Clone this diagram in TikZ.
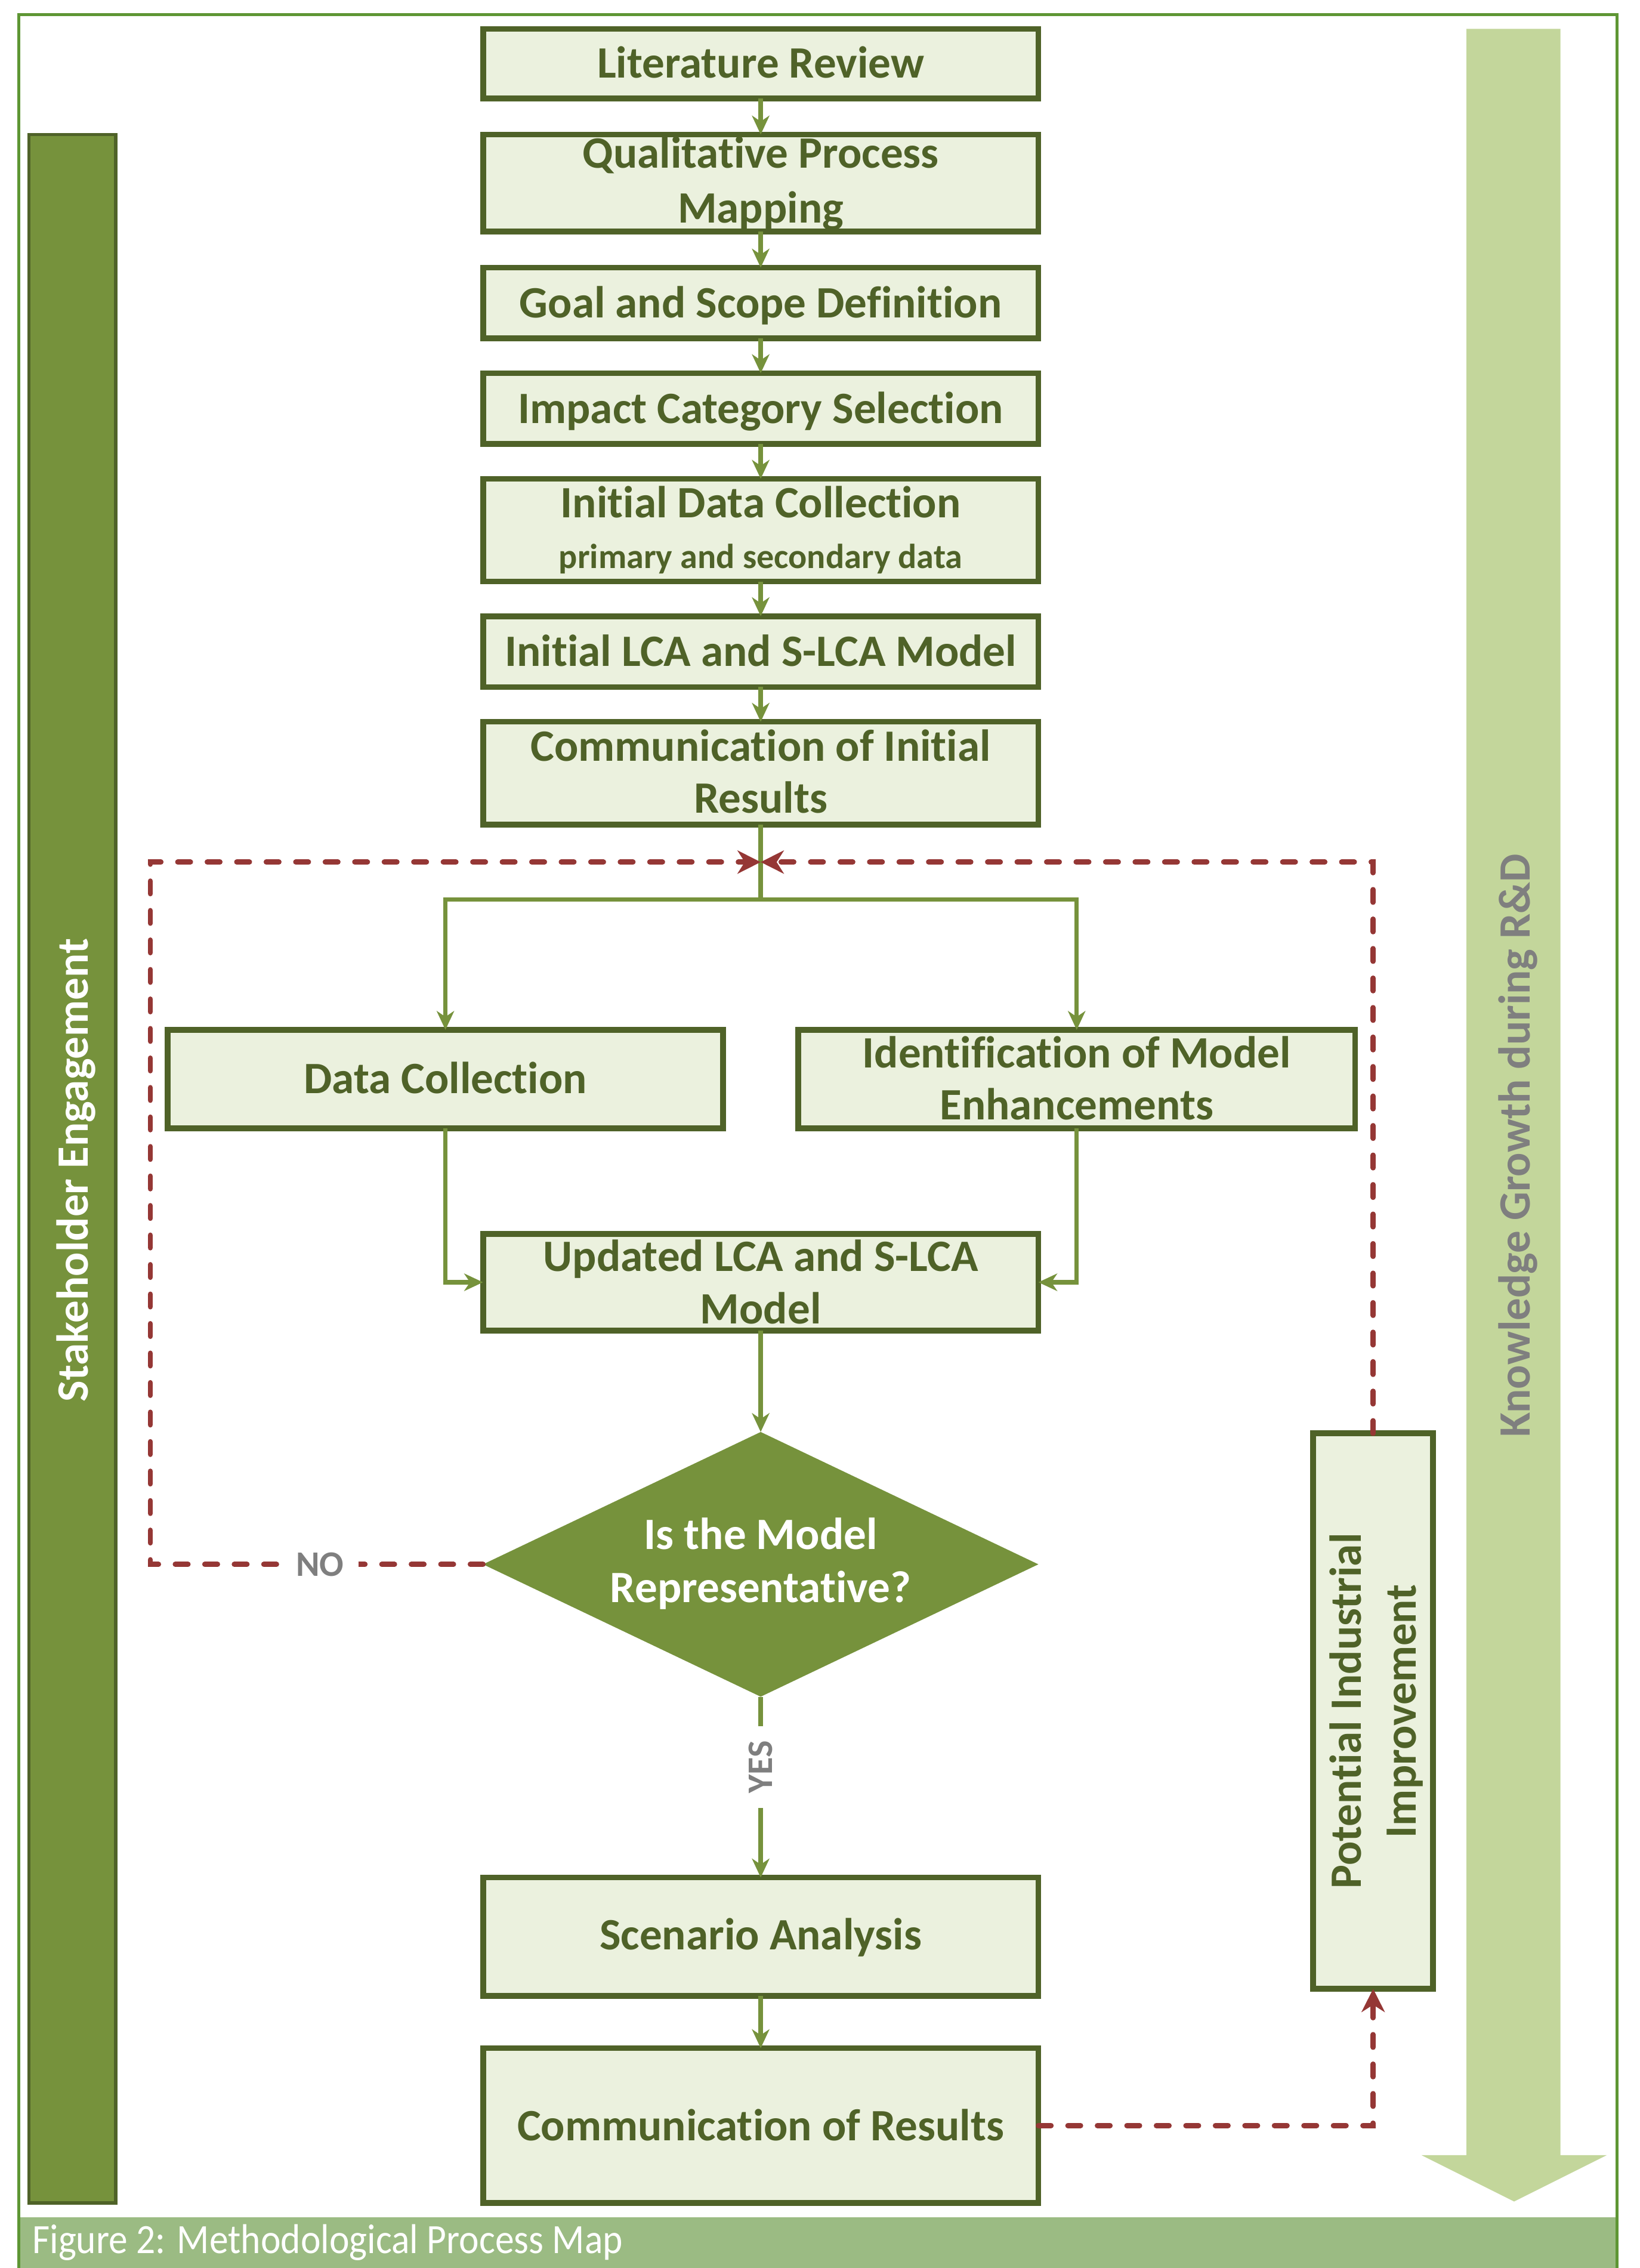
\documentclass[tikz,border=0pt]{standalone}
\usepackage{fontspec}
\setmainfont{Carlito}[Ligatures={NoCommon,NoRequired,NoContextual},Contextuals={NoAlternate}]
\usetikzlibrary{arrows.meta,shapes.geometric,calc}
\definecolor{frameG}{RGB}{94,150,52}
\definecolor{capG}{RGB}{155,187,131}
\definecolor{boxF}{RGB}{235,241,222}
\definecolor{boxD}{RGB}{79,98,40}
\definecolor{oliveG}{RGB}{118,146,60}
\definecolor{redD}{RGB}{149,55,53}
\definecolor{lightG}{RGB}{195,214,155}
\definecolor{grayT}{RGB}{127,127,127}
\begin{document}
\begin{tikzpicture}[x=0.5pt,y=-0.5pt,
  pbox/.style={draw=boxD, line width=2pt, fill=boxF, minimum width=192pt, inner sep=0pt, outer sep=0pt},
  btxt/.style={anchor=base, inner sep=0pt, font=\bfseries\fontsize{15.5}{18}\selectfont, text=boxD},
  stxt/.style={anchor=base, inner sep=0pt, font=\bfseries\fontsize{12}{14}\selectfont, text=boxD},
  wtxt/.style={anchor=base, inner sep=0pt, font=\bfseries\fontsize{15.5}{18}\selectfont, text=white},
  gline/.style={draw=oliveG, line width=1.5pt},
  garrow/.style={gline, -{Stealth[length=6.5pt,width=6pt,inset=2pt]}},
  rdash/.style={draw=redD, line width=1.8pt, line cap=round, dash pattern=on 4.4pt off 5.8pt, -{Stealth[length=8pt,width=8pt,inset=2.5pt]}},
  lab/.style={font=\bfseries\fontsize{12.4}{14}\selectfont, text=grayT, fill=white, inner xsep=5pt, inner ysep=2pt}
]
\useasboundingbox (0,0) rectangle (1134,1568);
\fill[white] (0,0) rectangle (1134,1568);
% frame and caption
\fill[capG] (13,1533) rectangle (1118,1568);
\draw[frameG, line width=1pt] (13,1568) -- (13,10) -- (1118,10) -- (1118,1568);
\node[anchor=base west, inner sep=0pt, text=white, font=\fontsize{14.4}{16}\selectfont] (cap) at (22,1558) {\scalebox{0.91}[1]{Figure 2: Methodological Process Map}};

% left bar
\node[draw=boxD, fill=oliveG, line width=1.2pt, minimum width=30pt, minimum height=715pt, inner sep=0pt] (sb) at (50,808) {};
\node[wtxt, rotate=90] at (61,809) {Stakeholder Engagement};

% right big arrow
\fill[lightG] (1014,20) -- (1079,20) -- (1079,1490) -- (1111,1490) -- (1047,1522) -- (983,1490) -- (1014,1490) -- cycle;
\node[btxt, text=grayT, rotate=90] (kg) at (1058,792) {Knowledge Growth during R\&D};

% boxes
\node[pbox, minimum height=24pt] (b1) at (526,44) {};
\node[btxt] at (526,54) {Literature Review};
\node[pbox, minimum height=33.5pt] (b2) at (526,126.5) {};
\node[btxt] at (526,116) {Qualitative Process};
\node[btxt] at (526,154) {Mapping};
\node[pbox, minimum height=24.5pt] (b3) at (526,209.5) {};
\node[btxt] at (526,219.5) {Goal and Scope Definition};
\node[pbox, minimum height=24.5pt] (b4) at (526,282.5) {};
\node[btxt] at (526,292.5) {Impact Category Selection};
\node[pbox, minimum height=35.5pt] (b5) at (526,366.5) {};
\node[btxt] at (526,358) {Initial Data Collection};
\node[stxt] at (526,393) {primary and secondary data};
\node[pbox, minimum height=24.5pt] (b6) at (526,450.5) {};
\node[btxt] at (526,460.5) {Initial LCA and S-LCA Model};
\node[pbox, minimum height=35.5pt] (b7) at (526,534.5) {};
\node[btxt] at (526,526) {Communication of Initial};
\node[btxt] at (526,562) {Results};
\node[pbox, minimum height=34pt] (b8) at (308,746) {};
\node[btxt] at (308,756) {Data Collection};
\node[pbox, minimum width=192.5pt, minimum height=34pt] (b9) at (744.5,746) {};
\node[btxt] at (744.5,738) {Identification of Model};
\node[btxt] at (744.5,774) {Enhancements};
\node[pbox, minimum height=33.5pt] (b10) at (526,886.5) {};
\node[btxt] at (526,879) {Updated LCA and S-LCA};
\node[btxt] at (526,915) {Model};
\node[diamond, fill=oliveG, draw=none, minimum width=192pt, minimum height=91.5pt, inner sep=0pt, outer sep=0pt] (dia) at (526,1081.5) {};
\node[wtxt] at (526,1071) {Is the Model};
\node[wtxt] at (526,1108) {Representative?};
\node[pbox, minimum height=41pt] (b11) at (526,1339) {};
\node[btxt] at (526,1348) {Scenario Analysis};
\node[pbox, minimum height=53.5pt] (b12) at (526,1469.5) {};
\node[btxt] at (526,1480) {Communication of Results};
\node[pbox, minimum width=41.5pt, minimum height=192pt] (b13) at (949.5,1183) {};
\node[btxt, rotate=90] at (941,1183) {Potential Industrial};
\node[btxt, rotate=90] at (979,1183) {Improvement};

% connectors
\coordinate (j) at (526,622);
\coordinate (m) at (526,596);
\draw[garrow] (b1.south) -- (b2.north);
\draw[garrow] (b2.south) -- (b3.north);
\draw[garrow] (b3.south) -- (b4.north);
\draw[garrow] (b4.south) -- (b5.north);
\draw[garrow] (b5.south) -- (b6.north);
\draw[garrow] (b6.south) -- (b7.north);
\draw[gline] (b7.south) -- (j);
\draw[garrow] (j) -| (b8.north);
\draw[garrow] (j) -| (b9.north);
\draw[garrow] (b8.south) |- (b10.west);
\draw[garrow] (b9.south) |- (b10.east);
\draw[garrow] (b10.south) -- (dia.north);
\draw[garrow] (dia.south) -- node[lab, rotate=90, pos=0.39] {YES} (b11.north);
\draw[garrow] (b11.south) -- (b12.north);
\draw[rdash] (dia.west) -- node[lab, pos=0.49] {NO} (104,1081.5) |- (m);
\draw[rdash] (b12.east) -| (b13.south);
\draw[rdash] (b13.north) |- (m);
\end{tikzpicture}
\end{document}
